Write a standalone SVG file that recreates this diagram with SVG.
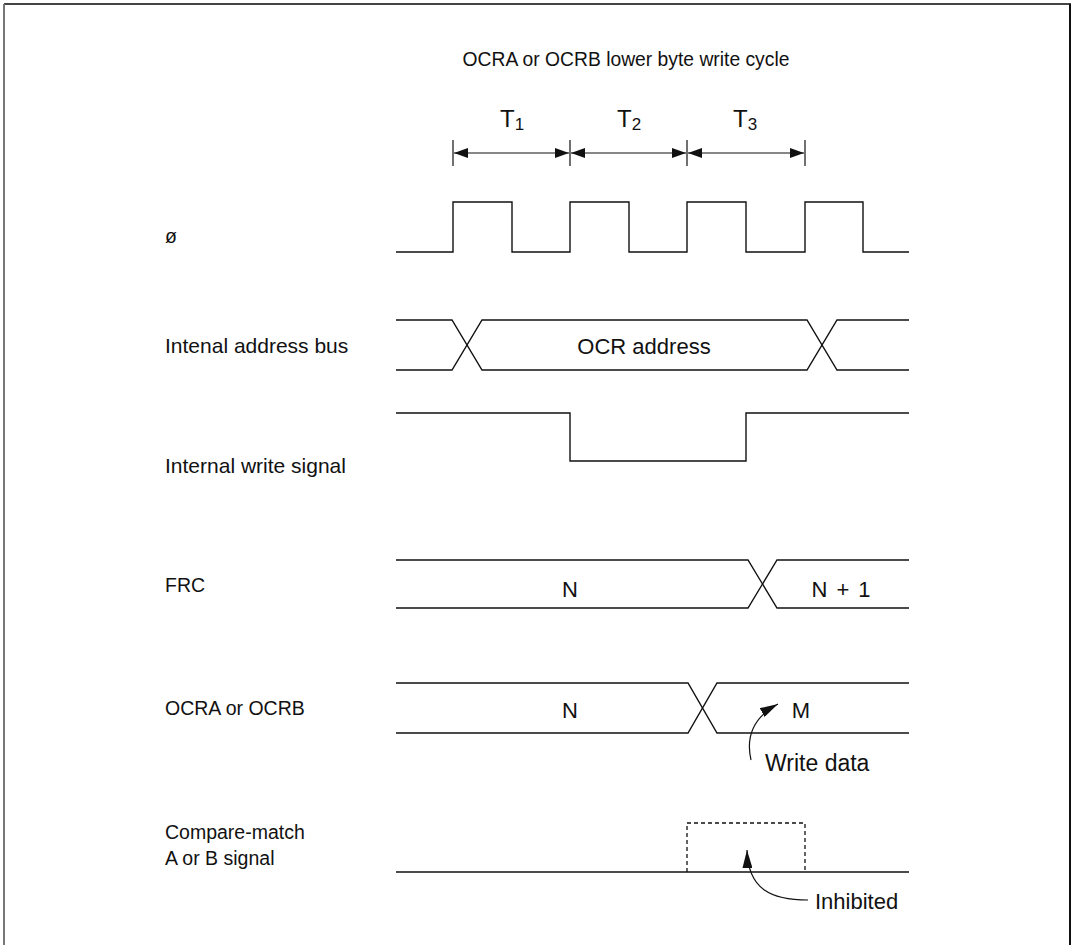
<svg xmlns="http://www.w3.org/2000/svg" width="1074" height="945" viewBox="0 0 1074 945">
<defs>
<style>
text{font-family:"Liberation Sans",Arial,sans-serif;font-size:19.5px;fill:#111}
.ttl{font-size:19.3px}
.lw{font-size:21px}
.big{font-size:22px}
.wd{font-size:23px}
.tl{font-size:24px}
.sub{font-size:17px}
.w{fill:none;stroke:#111;stroke-width:1.4}
.t{stroke:#111;stroke-width:1.2}
.d{fill:none;stroke:#111;stroke-width:1.3;stroke-dasharray:4,3}
.c{fill:none;stroke:#111;stroke-width:1.2}
</style>
<marker id="ah" viewBox="0 0 14 10" refX="14" refY="5" markerWidth="14" markerHeight="10" markerUnits="userSpaceOnUse" orient="auto"><path d="M0,0 L14,5 L0,10 Z" fill="#111"/></marker>
<marker id="ah2" viewBox="0 0 14 10" refX="14" refY="5" markerWidth="14" markerHeight="10" markerUnits="userSpaceOnUse" orient="auto-start-reverse"><path d="M0,0 L14,5 L0,10 Z" fill="#111"/></marker>
<marker id="ahc" viewBox="0 0 18 10" refX="18" refY="5" markerWidth="18" markerHeight="10" markerUnits="userSpaceOnUse" orient="auto"><path d="M0,0 L18,5 L0,10 Z" fill="#111"/></marker>
</defs>
<rect width="1074" height="945" fill="#fff"/>
<g id="frame">
<line x1="4" y1="4" x2="1071" y2="4" stroke="#444" stroke-width="2"/>
<line x1="4" y1="4" x2="4" y2="945" stroke="#777" stroke-width="2"/>
<line x1="1070" y1="4" x2="1070" y2="945" stroke="#111" stroke-width="2"/>
</g>
<text id="title" class="ttl" x="626" y="66" text-anchor="middle">OCRA or OCRB lower byte write cycle</text>
<g id="labels">
<text x="165" y="243">ø</text>
<text class="lw" x="165" y="353">Intenal address bus</text>
<text class="lw" x="165" y="473">Internal write signal</text>
<text x="165" y="592">FRC</text>
<text x="165" y="715">OCRA or OCRB</text>
<text x="165" y="839">Compare-match</text>
<text x="165" y="865">A or B signal</text>
</g>
<g id="periods">
<line class="t" x1="453" y1="140" x2="453" y2="166"/>
<line class="t" x1="570" y1="140" x2="570" y2="166"/>
<line class="t" x1="687" y1="140" x2="687" y2="166"/>
<line class="t" x1="805" y1="140" x2="805" y2="166"/>
<line class="t" x1="454" y1="153" x2="569" y2="153" marker-start="url(#ah2)" marker-end="url(#ah)"/>
<line class="t" x1="571" y1="153" x2="686" y2="153" marker-start="url(#ah2)" marker-end="url(#ah)"/>
<line class="t" x1="688" y1="153" x2="804" y2="153" marker-start="url(#ah2)" marker-end="url(#ah)"/>
<text class="tl" x="500" y="127">T<tspan class="sub" dy="3">1</tspan></text>
<text class="tl" x="617" y="127">T<tspan class="sub" dy="3">2</tspan></text>
<text class="tl" x="733" y="127">T<tspan class="sub" dy="3">3</tspan></text>
</g>
<g id="clock">
<path class="w" d="M396,252 H453 V202 H512 V252 H570 V202 H629 V252 H687 V202 H746 V252 H805 V202 H863 V252 H909"/>
</g>
<g id="address-bus">
<path class="w" d="M396,320 H452 L482,370 H807 L837,320 H909"/>
<path class="w" d="M396,370 H452 L482,320 H807 L837,370 H909"/>
<text class="big" x="644" y="354" text-anchor="middle">OCR address</text>
</g>
<g id="write-signal">
<path class="w" d="M396,413 H570 V461 H746 V413 H909"/>
</g>
<g id="frc">
<path class="w" d="M396,560 H748 L777,608 H909"/>
<path class="w" d="M396,608 H748 L777,560 H909"/>
<text class="big" x="570" y="597" text-anchor="middle">N</text>
<text class="big" x="841" y="597" text-anchor="middle" word-spacing="3">N + 1</text>
</g>
<g id="ocr">
<path class="w" d="M396,683 H688 L717,733 H909"/>
<path class="w" d="M396,733 H688 L717,683 H909"/>
<text class="big" x="570" y="718" text-anchor="middle">N</text>
<text class="big" x="801" y="718" text-anchor="middle">M</text>
<text class="wd" x="765" y="771">Write data</text>
</g>
<g id="compare">
<line class="w" x1="396" y1="872" x2="909" y2="872"/>
<path class="d" d="M687,872 V823 H805 V872"/>
<text class="big" x="815" y="909">Inhibited</text>
</g>
<g id="connectors">
<path class="c" d="M751,760 C746,738 752,718 778,704" marker-end="url(#ahc)"/>
<path class="c" d="M808,900 C772,900 748,890 747,850" marker-end="url(#ahc)"/>
</g>
</svg>
